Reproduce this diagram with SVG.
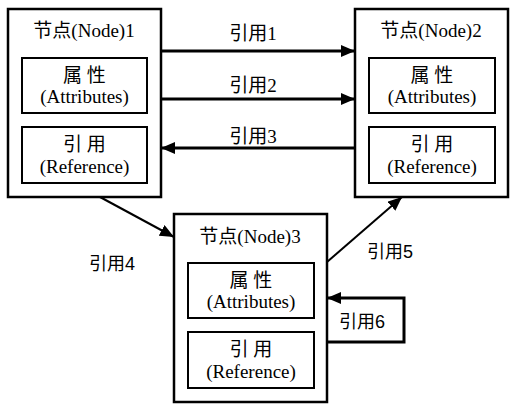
<svg xmlns="http://www.w3.org/2000/svg" width="518" height="413" viewBox="0 0 518 413">
<style>
.outer{fill:#fff;stroke:#000;stroke-width:2.5}
.inner{fill:#fff;stroke:#000;stroke-width:2}
.t{font-family:"Liberation Serif","Noto Sans CJK SC",serif;font-size:19px;text-anchor:middle;fill:#000}
.ts{font-family:"Liberation Sans","Noto Sans CJK SC",sans-serif;font-size:18px;text-anchor:middle;fill:#000}
.c{fill:none;stroke:#000;stroke-width:3}
.c2{fill:none;stroke:#000;stroke-width:2}
</style>
<defs>
<marker id="ah" markerWidth="14" markerHeight="12" refX="14" refY="6" orient="auto" markerUnits="userSpaceOnUse">
<path d="M0,0 L14,6 L0,12 Z" fill="#000"/>
</marker>
</defs>
<rect width="518" height="413" fill="#fff"/>
<g id="node1">
<rect class="outer" x="8" y="9" width="153" height="188"/>
<text class="t" x="84" y="37">节点(Node)1</text>
<rect class="inner" x="22" y="58" width="125" height="55"/>
<text class="t" x="84.5" y="82">属 性</text>
<text class="t" x="84.5" y="103">(Attributes)</text>
<rect class="inner" x="22" y="127" width="125" height="56"/>
<text class="t" x="84.5" y="151">引 用</text>
<text class="t" x="84.5" y="173">(Reference)</text>
</g>
<g id="node2">
<rect class="outer" x="355" y="9" width="153" height="188"/>
<text class="t" x="431" y="37">节点(Node)2</text>
<rect class="inner" x="369" y="58" width="126" height="55"/>
<text class="t" x="432" y="82">属 性</text>
<text class="t" x="432" y="103">(Attributes)</text>
<rect class="inner" x="369" y="127" width="126" height="56"/>
<text class="t" x="432" y="151">引 用</text>
<text class="t" x="432" y="173">(Reference)</text>
</g>
<g id="node3">
<rect class="outer" x="174" y="214" width="153" height="188"/>
<text class="t" x="250" y="243">节点(Node)3</text>
<rect class="inner" x="188" y="263" width="126" height="55"/>
<text class="t" x="251" y="287">属 性</text>
<text class="t" x="251" y="308">(Attributes)</text>
<rect class="inner" x="188" y="332" width="126" height="56"/>
<text class="t" x="251" y="356">引 用</text>
<text class="t" x="251" y="378">(Reference)</text>
</g>
<g id="connectors">
<line class="c" x1="161" y1="51" x2="355" y2="51" marker-end="url(#ah)"/>
<line class="c" x1="161" y1="99" x2="355" y2="99" marker-end="url(#ah)"/>
<line class="c" x1="355" y1="148" x2="161" y2="148" marker-end="url(#ah)"/>
<line class="c2" x1="100" y1="197" x2="174" y2="237" marker-end="url(#ah)"/>
<line class="c2" x1="327" y1="262" x2="402" y2="197" marker-end="url(#ah)"/>
<polyline class="c" points="327,342 404,342 404,298 327,298" marker-end="url(#ah)"/>
<text class="t" x="253" y="40">引用1</text>
<text class="t" x="253" y="92">引用2</text>
<text class="t" x="253" y="143">引用3</text>
<text class="ts" x="112" y="270">引用4</text>
<text class="ts" x="390" y="258">引用5</text>
<text class="ts" x="362" y="328">引用6</text>
</g>
</svg>
